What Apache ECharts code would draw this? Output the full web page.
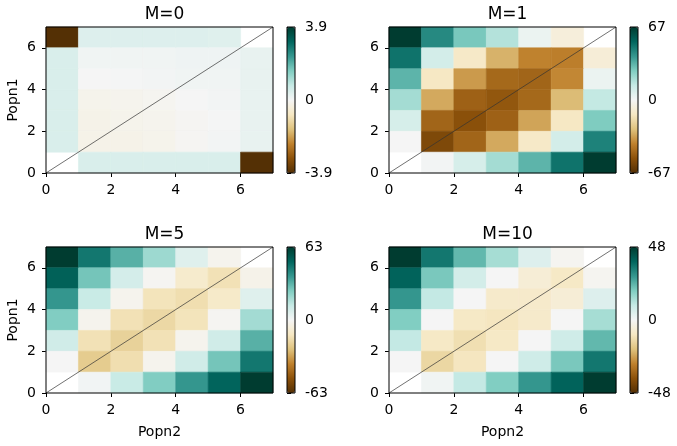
<!DOCTYPE html>
<html>
<head>
<meta charset="utf-8">
<script src="https://cdn.jsdelivr.net/npm/echarts@6/dist/echarts.min.js"></script>
<style>
html,body{margin:0;padding:0;background:#fff;}
#chart{width:677px;height:446px;}
</style>
</head>
<body>
<div id="chart"></div>
<script>
// ---- data (rows listed from top: Popn1 = 6 down to Popn1 = 0; columns Popn2 = 0..6) ----
const titles = ['M=0', 'M=1', 'M=5', 'M=10'];
const limits = [3.9, 67, 63, 48];
const axisTicks = [0, 2, 4, 6];
const cellCount = 7;

const m0Rows = [
  [-3.9, 0.40, 0.40, 0.40, 0.40, 0.38, null],
  [0.47, 0.08, 0.08, 0.08, 0.12, 0.12, 0.22],
  [0.47, 0.00, 0.02, 0.05, 0.08, 0.08, 0.22],
  [0.47, -0.15, -0.12, -0.08, 0.00, 0.05, 0.22],
  [0.47, -0.20, -0.15, -0.12, -0.05, 0.02, 0.22],
  [0.47, -0.20, -0.20, -0.15, -0.05, 0.05, 0.22],
  [null, 0.47, 0.47, 0.47, 0.47, 0.47, -3.9]
];
const m1Rows = [
  [67, 44, 28, 17, 3, -7, null],
  [50, 10, -12, -30, -40, -41, -8],
  [33, -13, -35, -47, -48, -39, 3],
  [20, -32, -49, -52, -47, -28, 14],
  [9, -48, -54, -49, -33, -13, 27],
  [0, -57, -48, -32, -12, 10, 46],
  [null, 1, 9, 20, 33, 50, 67]
];
const m5Rows = [
  [63, 46, 32, 20, 6, -2, null],
  [52, 27, 9, -1, -10, -15, -3],
  [38, 12, -2, -14, -16, -11, 6],
  [25, -2, -15, -18, -14, -1, 19],
  [10, -15, -20, -15, -2, 10, 32],
  [0, -22, -16, -2, 10, 27, 46],
  [null, 1, 12, 25, 38, 51, 63]
];
const m10Rows = [
  [48, 35, 23, 14, 5, -1, null],
  [39, 20, 7, 0, -6, -9, -1],
  [29, 10, 0, -8, -8, -6, 5],
  [19, 0, -9, -10, -8, 0, 14],
  [10, -9, -12, -9, 0, 8, 23],
  [0, -14, -10, 0, 8, 20, 35],
  [null, 1, 10, 19, 29, 39, 48]
];
const panelRows = [m0Rows, m1Rows, m5Rows, m10Rows];
const diagonal = [[0, 0], [7, 7]];

// BrBG colormap stops
const brbg = ['#543005','#8c510a','#bf812d','#dfc27d','#f6e8c3','#f5f5f5','#c7eae5','#80cdc1','#35978f','#01665e','#003c30'];

// ---- layout ----
const FONT = 'DejaVu Sans';
const panelLeft = [46, 389, 46, 389];
const panelTop = [27, 27, 247, 247];
const panelW = 227, panelH = 146;
const cbOffset = 241, cbW = 8;
const TICK_FS = 14;

function toCells(rows) {
  const out = [];
  rows.forEach((row, r) => {
    const y = cellCount - 1 - r;
    row.forEach((v, x) => { if (v !== null) out.push([x, y, v]); });
  });
  return out;
}

const grid = [], xAxis = [], yAxis = [], series = [], visualMap = [], title = [];

for (let i = 0; i < 4; i++) {
  const L = panelLeft[i], T = panelTop[i], lim = limits[i];
  const isLeft = (i % 2 === 0), isBottom = (i >= 2);
  grid.push({left: L, top: T, width: panelW, height: panelH, show: true, z: 10,
    borderColor: '#000', borderWidth: 1, backgroundColor: 'transparent', containLabel: false});
  xAxis.push({type: 'value', gridIndex: i, min: 0, max: 7, interval: 1,
    axisLine: {show: false}, splitLine: {show: false},
    axisTick: {show: true, inside: false, length: 4, customValues: axisTicks, lineStyle: {color: '#000', width: 1}},
    axisLabel: {show: true, margin: 10, customValues: axisTicks, color: '#000', fontFamily: FONT, fontSize: TICK_FS},
    name: isBottom ? 'Popn2' : '', nameLocation: 'middle', nameGap: 32,
    nameTextStyle: {color: '#000', fontFamily: FONT, fontSize: TICK_FS}
  });
  yAxis.push({type: 'value', gridIndex: i, min: 0, max: 7, interval: 1,
    axisLine: {show: false}, splitLine: {show: false},
    axisTick: {show: true, inside: false, length: 4, customValues: axisTicks, lineStyle: {color: '#000', width: 1}},
    axisLabel: {show: true, margin: 10, customValues: axisTicks, color: '#000', fontFamily: FONT, fontSize: TICK_FS},
    name: isLeft ? 'Popn1' : '', nameLocation: 'middle', nameGap: 26, nameRotate: 90,
    nameTextStyle: {color: '#000', fontFamily: FONT, fontSize: TICK_FS}
  });
  title.push({text: titles[i], left: L + panelW / 2, top: T - 26, textAlign: 'center',
    textStyle: {fontFamily: FONT, fontSize: 17, fontWeight: 'normal', color: '#000'}});
  const seriesIdx = series.length;
  series.push({type: 'custom', xAxisIndex: i, yAxisIndex: i, silent: true,
    encode: {x: 0, y: 1},
    data: toCells(panelRows[i]),
    renderItem: function (params, api) {
      const x = api.value(0), y = api.value(1);
      const p0 = api.coord([x, y + 1]);
      const p1 = api.coord([x + 1, y]);
      const c = api.visual('color');
      return {type: 'rect', shape: {x: p0[0], y: p0[1], width: p1[0] - p0[0], height: p1[1] - p0[1]},
        style: {fill: c, stroke: c, lineWidth: 0.6}};
    }
  });
  series.push({type: 'line', xAxisIndex: i, yAxisIndex: i, data: diagonal, symbol: 'none', silent: true,
    z: 5, lineStyle: {color: '#333', width: 0.7}});
  visualMap.push({type: 'continuous', seriesIndex: seriesIdx, dimension: 2, min: -lim, max: lim,
    calculable: false, hoverLink: false, left: L + cbOffset, top: T, itemWidth: cbW, itemHeight: panelH,
    padding: 0, text: null, inRange: {color: brbg}});
}
// colorbar frames with ticks
for (let i = 0; i < 4; i++) {
  const L = panelLeft[i], T = panelTop[i], lim = limits[i];
  const gi = grid.length;
  grid.push({left: L + cbOffset, top: T, width: cbW, height: panelH, show: true, z: 10,
    borderColor: '#000', borderWidth: 1, backgroundColor: 'transparent'});
  xAxis.push({type: 'value', gridIndex: gi, show: false, min: 0, max: 1});
  const cbTicks = [-lim, 0, lim];
  yAxis.push({type: 'value', gridIndex: gi, position: 'right', min: -lim, max: lim,
    axisLine: {show: false}, splitLine: {show: false},
    axisTick: {show: true, length: 4, customValues: cbTicks, lineStyle: {color: '#000', width: 1}},
    axisLabel: {show: true, margin: 10, customValues: cbTicks, color: '#000', fontFamily: FONT, fontSize: TICK_FS,
      formatter: v => String(v)}
  });
}

const chart = echarts.init(document.getElementById('chart'), null, {renderer: 'canvas'});
chart.setOption({
  animation: false,
  backgroundColor: '#fff',
  title, grid, xAxis, yAxis, visualMap, series
});
</script>
</body>
</html>
